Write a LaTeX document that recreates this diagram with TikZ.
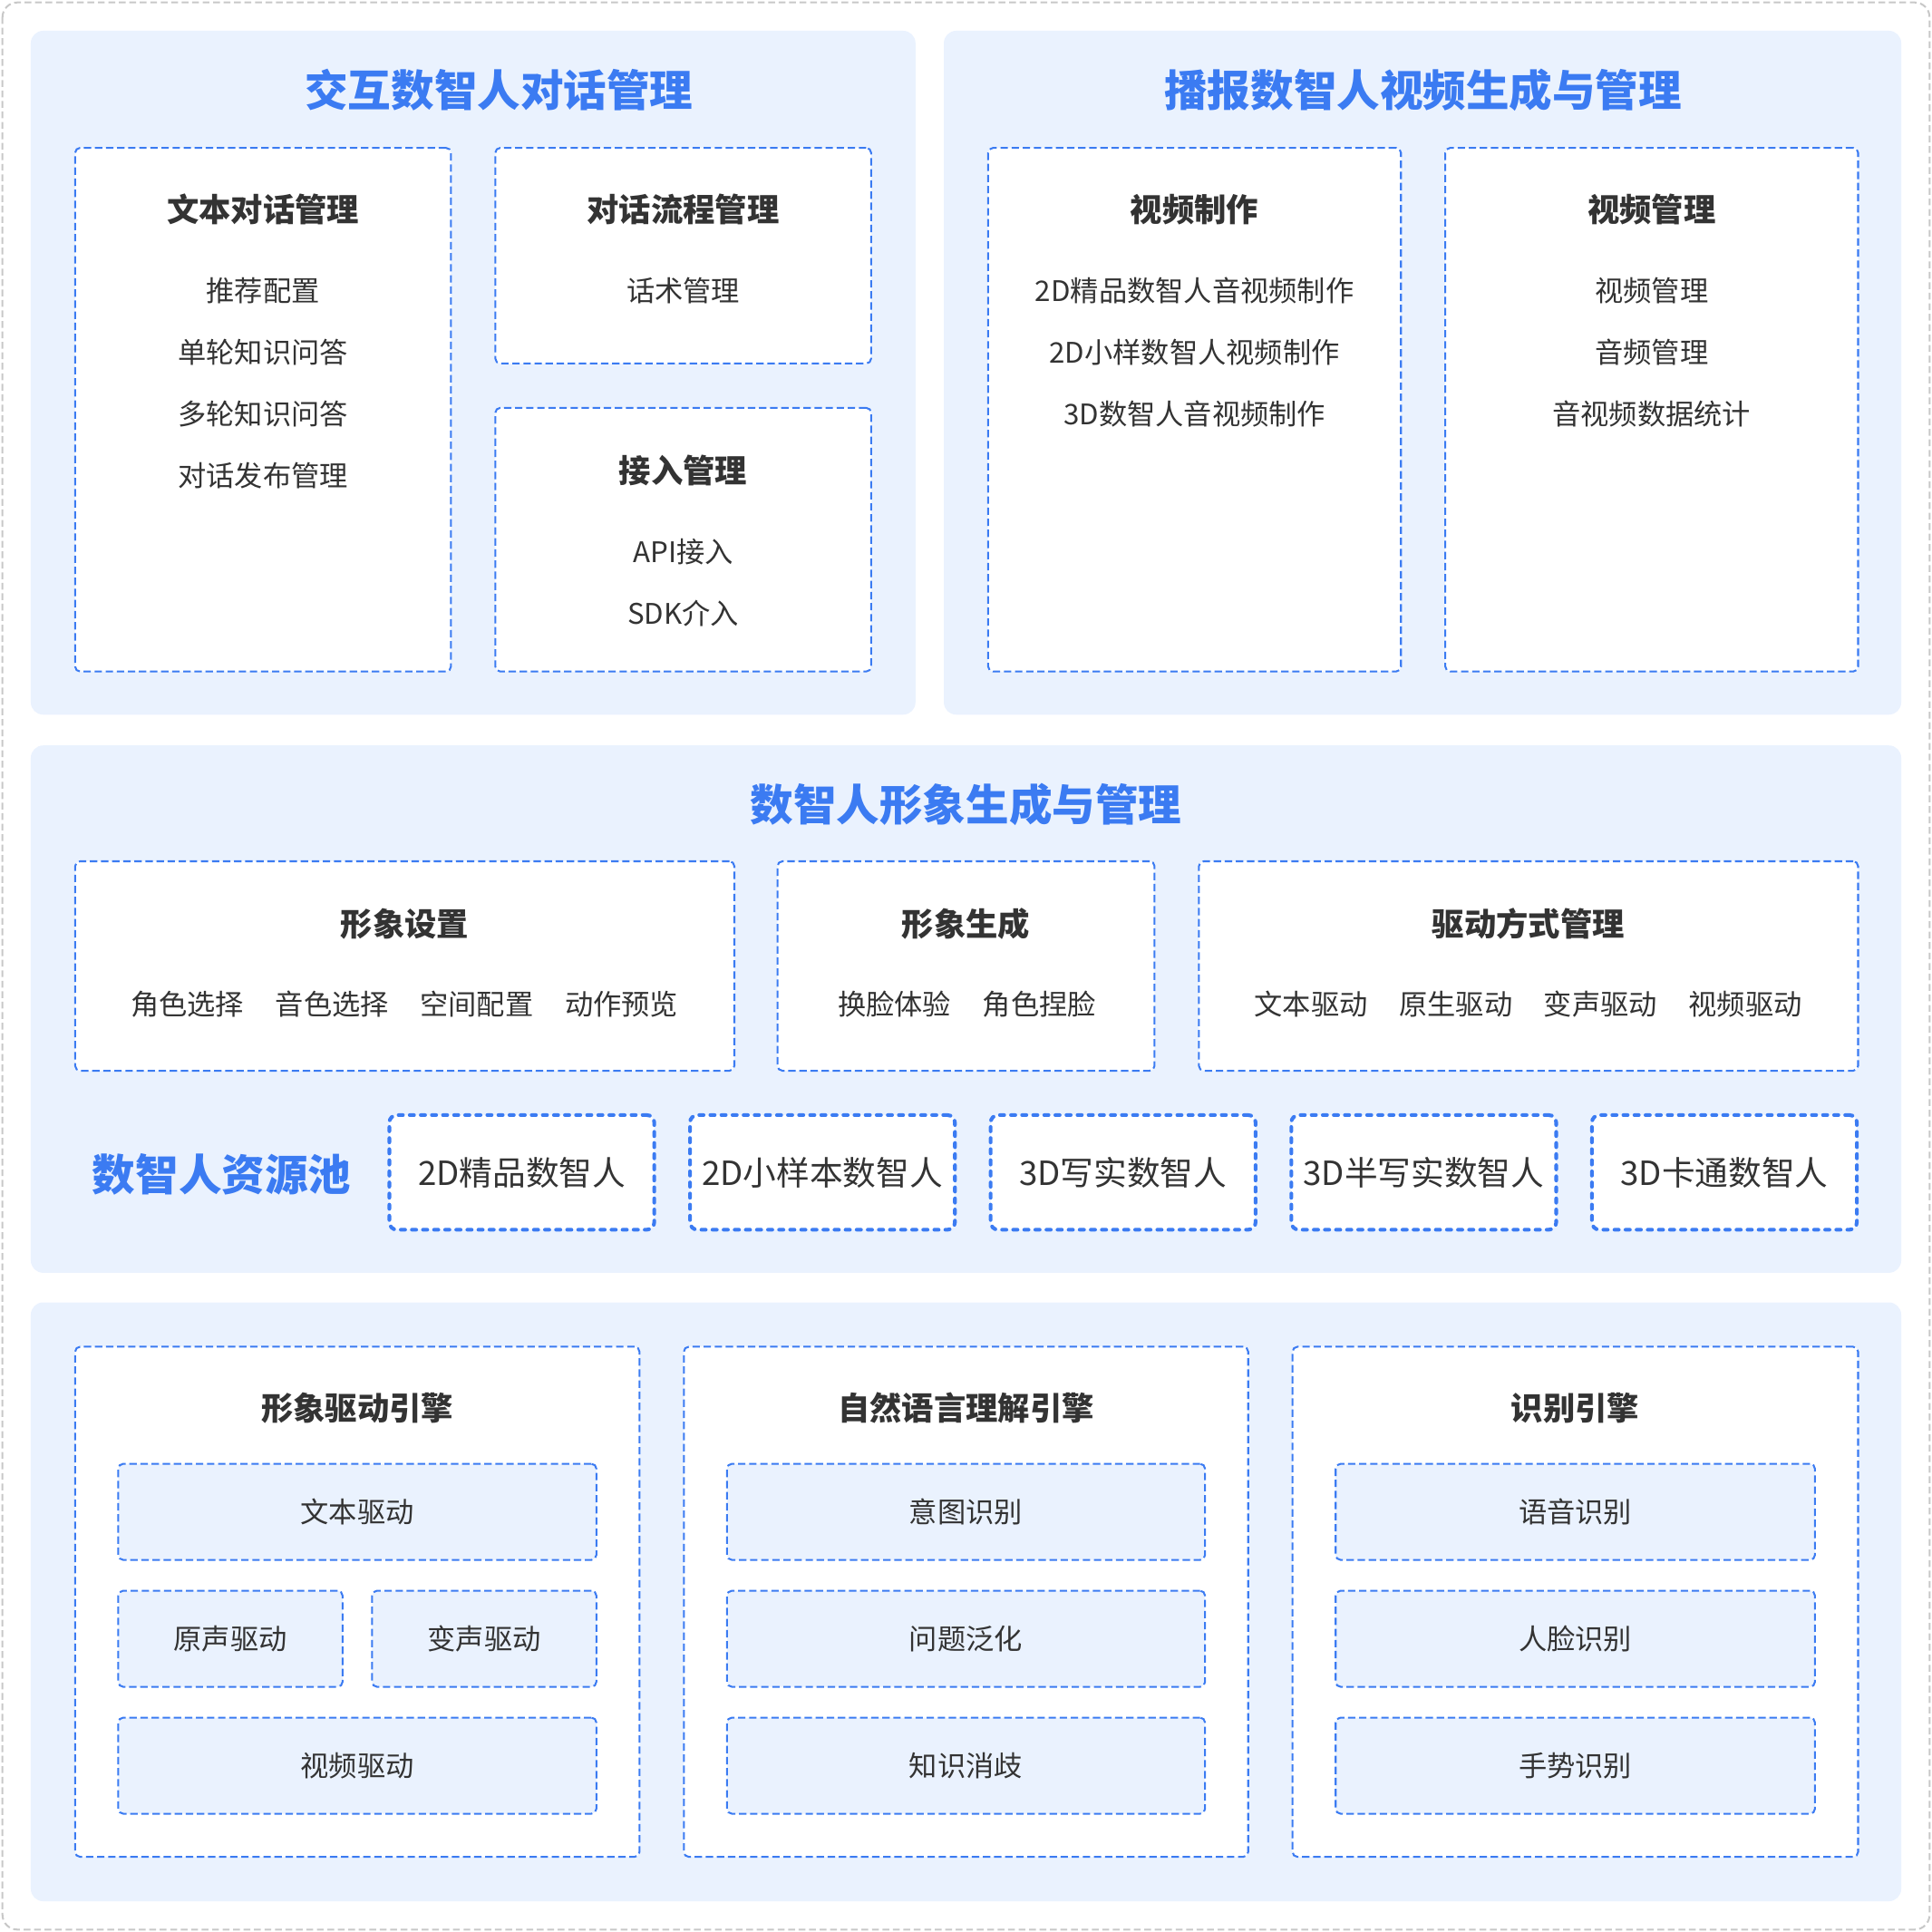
\documentclass[tikz,border=0pt]{standalone}
\usepackage{fontspec}
\setmainfont{Noto Sans CJK SC}
\usepackage{tikz}
\usetikzlibrary{positioning}
\definecolor{titleblue}{HTML}{3B7BF2}
\definecolor{panelbg}{HTML}{EAF2FE}
\definecolor{dashblue}{HTML}{3B7BF2}
\definecolor{txtgray}{HTML}{333333}
\definecolor{framegray}{HTML}{C8C8C8}
\tikzset{
    panel/.style={
           rectangle,
           rounded corners=10pt,
           fill=panelbg,
           inner sep=0pt,
           },
    box/.style={
           rectangle,
           rounded corners=4pt,
           draw=dashblue, fill=white,
           line width=1.5pt,
           dash pattern=on 6pt off 3pt,
           inner sep=0pt,
           },
    subbox/.style={
           box,
           fill=panelbg,
           minimum height=78pt,
           font=\fontsize{23}{26}\selectfont,
           text=txtgray,
           },
    poolbox/.style={
           rectangle,
           rounded corners=6pt,
           draw=dashblue, fill=white,
           line width=3pt, line cap=round,
           dash pattern=on 3.5pt off 5.5pt,
           inner sep=0pt,
           minimum width=215pt, minimum height=93pt,
           font=\fontsize{27}{30}\selectfont,
           text=txtgray,
           },
    head/.style={font=\fontsize{35}{40}\selectfont\bfseries, text=titleblue},
    boxtitle/.style={font=\fontsize{26}{30}\selectfont\bfseries, text=txtgray},
    item/.style={font=\fontsize{23}{26}\selectfont, text=txtgray},
}

\begin{document}
\begin{tikzpicture}[x=1pt, y=-1pt]

 \useasboundingbox (0,0) rectangle (1568,1568);
 \draw[framegray, line width=1.5pt, dash pattern=on 5.5pt off 3pt, rounded corners=12pt]
  (2,2) rectangle (1566,1566);

 % Panels
 \node[panel, minimum width=718pt, minimum height=555pt] (DIALOG) at (384,302.5) {};
 \node[panel, minimum width=777pt, minimum height=555pt] (VIDEO) at (1154.5,302.5) {};
 \node[panel, minimum width=1518pt, minimum height=428pt] (AVATAR) at (784,819) {};
 \node[panel, minimum width=1518pt, minimum height=486pt] (ENGINE) at (784,1300) {};

 % Interactive dialog panel
 \node[head] (DIALOGT) at (405,73) {交互数智人对话管理};

 \node[box, minimum width=305pt, minimum height=425pt] (TXTDLG) at (213.5,332.5) {};
 \node[boxtitle] (TXTDLGT) at (213.5,170) {文本对话管理};
 \node[item, below of=TXTDLGT, node distance=66pt] (TXTDLG1) {推荐配置};
 \node[item, below of=TXTDLG1, node distance=50pt] (TXTDLG2) {单轮知识问答};
 \node[item, below of=TXTDLG2, node distance=50pt] (TXTDLG3) {多轮知识问答};
 \node[item, below of=TXTDLG3, node distance=50pt] (TXTDLG4) {对话发布管理};

 \node[box, minimum width=305pt, minimum height=175pt] (FLOW) at (554.5,207.5) {};
 \node[boxtitle] (FLOWT) at (554.5,170) {对话流程管理};
 \node[item, below of=FLOWT, node distance=66pt] (FLOW1) {话术管理};

 \node[box, minimum width=305pt, minimum height=214pt] (ACCESS) at (554.5,438) {};
 \node[boxtitle] (ACCESST) at (554.5,382) {接入管理};
 \node[item, below of=ACCESST, node distance=66pt] (ACCESS1) {API接入};
 \node[item, below of=ACCESS1, node distance=50pt] (ACCESS2) {SDK介入};

 % Broadcast video panel
 \node[head] (VIDEOT) at (1155,73) {播报数智人视频生成与管理};

 \node[box, minimum width=335pt, minimum height=425pt] (MAKE) at (969.5,332.5) {};
 \node[boxtitle] (MAKET) at (969.5,170) {视频制作};
 \node[item, below of=MAKET, node distance=66pt] (MAKE1) {2D精品数智人音视频制作};
 \node[item, below of=MAKE1, node distance=50pt] (MAKE2) {2D小样数智人视频制作};
 \node[item, below of=MAKE2, node distance=50pt] (MAKE3) {3D数智人音视频制作};

 \node[box, minimum width=335pt, minimum height=425pt] (MANAGE) at (1340.5,332.5) {};
 \node[boxtitle] (MANAGET) at (1340.5,170) {视频管理};
 \node[item, below of=MANAGET, node distance=66pt] (MANAGE1) {视频管理};
 \node[item, below of=MANAGE1, node distance=50pt] (MANAGE2) {音频管理};
 \node[item, below of=MANAGE2, node distance=50pt] (MANAGE3) {音视频数据统计};

 % Avatar panel
 \node[head] (AVATART) at (784,653) {数智人形象生成与管理};

 \node[box, minimum width=535pt, minimum height=170pt] (SETUP) at (328.5,784) {};
 \node[boxtitle] (SETUPT) at (328.5,750) {形象设置};
 \node[item] (SETUP1) at (152,815) {角色选择};
 \node[item, right of=SETUP1, node distance=117.5pt] (SETUP2) {音色选择};
 \node[item, right of=SETUP2, node distance=117.5pt] (SETUP3) {空间配置};
 \node[item, right of=SETUP3, node distance=117.5pt] (SETUP4) {动作预览};

 \node[box, minimum width=306pt, minimum height=170pt] (GEN) at (784,784) {};
 \node[boxtitle] (GENT) at (784,750) {形象生成};
 \node[item] (GEN1) at (726,815) {换脸体验};
 \node[item, right of=GEN1, node distance=117.5pt] (GEN2) {角色捏脸};

 \node[box, minimum width=535pt, minimum height=170pt] (DRIVE) at (1240.5,784) {};
 \node[boxtitle] (DRIVET) at (1240.5,750) {驱动方式管理};
 \node[item] (DRIVE1) at (1064,815) {文本驱动};
 \node[item, right of=DRIVE1, node distance=117.5pt] (DRIVE2) {原生驱动};
 \node[item, right of=DRIVE2, node distance=117.5pt] (DRIVE3) {变声驱动};
 \node[item, right of=DRIVE3, node distance=117.5pt] (DRIVE4) {视频驱动};

 % Resource pool
 \node[head] (POOL) at (180,953) {数智人资源池};
 \node[poolbox] (POOL1) at (423.5,951.5) {2D精品数智人};
 \node[poolbox, right of=POOL1, node distance=244pt] (POOL2) {2D小样本数智人};
 \node[poolbox, right of=POOL2, node distance=244pt] (POOL3) {3D写实数智人};
 \node[poolbox, right of=POOL3, node distance=244pt] (POOL4) {3D半写实数智人};
 \node[poolbox, right of=POOL4, node distance=244pt] (POOL5) {3D卡通数智人};

 % Engines
 \node[box, minimum width=458pt, minimum height=414pt] (AVENG) at (290,1300) {};
 \node[boxtitle] (AVENGT) at (290,1143) {形象驱动引擎};
 \node[subbox, minimum width=388pt] (AVENG1) at (290,1227) {文本驱动};
 \node[subbox, minimum width=182pt] (AVENG2) at (187,1330) {原声驱动};
 \node[subbox, minimum width=182pt] (AVENG3) at (393,1330) {变声驱动};
 \node[subbox, minimum width=388pt] (AVENG4) at (290,1433) {视频驱动};

 \node[box, minimum width=458pt, minimum height=414pt] (NLU) at (784,1300) {};
 \node[boxtitle] (NLUT) at (784,1143) {自然语言理解引擎};
 \node[subbox, minimum width=388pt] (NLU1) at (784,1227) {意图识别};
 \node[subbox, minimum width=388pt, below of=NLU1, node distance=103pt] (NLU2) {问题泛化};
 \node[subbox, minimum width=388pt, below of=NLU2, node distance=103pt] (NLU3) {知识消歧};

 \node[box, minimum width=459pt, minimum height=414pt] (RECOG) at (1278.5,1300) {};
 \node[boxtitle] (RECOGT) at (1278.5,1143) {识别引擎};
 \node[subbox, minimum width=389pt] (RECOG1) at (1278.5,1227) {语音识别};
 \node[subbox, minimum width=389pt, below of=RECOG1, node distance=103pt] (RECOG2) {人脸识别};
 \node[subbox, minimum width=389pt, below of=RECOG2, node distance=103pt] (RECOG3) {手势识别};

\end{tikzpicture}
\end{document}
